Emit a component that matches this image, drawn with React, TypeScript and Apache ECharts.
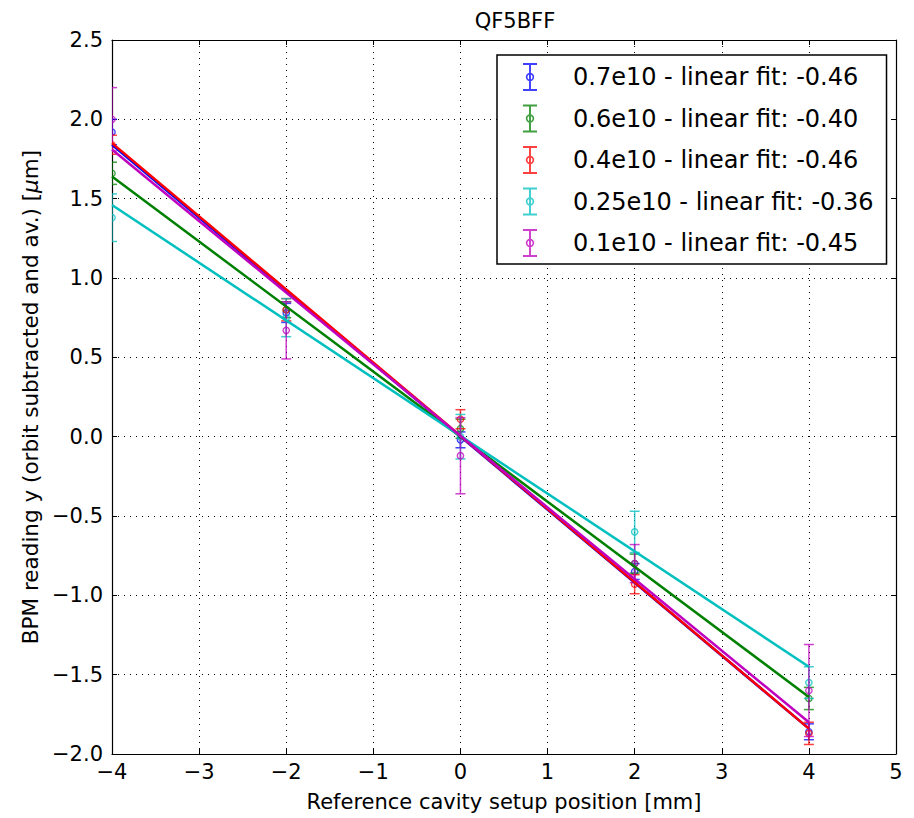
import React, { useEffect, useRef } from "react";
import * as echarts from "echarts";

// ---- data ----
const xPositions = [-4, -2, 0, 2, 4];
const seriesNames = [
  "0.7e10 - linear fit: -0.46",
  "0.6e10 - linear fit: -0.40",
  "0.4e10 - linear fit: -0.46",
  "0.25e10 - linear fit: -0.36",
  "0.1e10 - linear fit: -0.45",
];
const mean07 = [1.92, 0.78, -0.02, -0.85, -1.86];
const err07 = [0.08, 0.06, 0.05, 0.05, 0.05];
const mean06 = [1.66, 0.8, 0.05, -0.8, -1.65];
const err06 = [0.07, 0.05, 0.06, 0.06, 0.07];
const mean04 = [1.84, 0.8, 0.11, -0.93, -1.87];
const err04 = [0.06, 0.07, 0.06, 0.06, 0.07];
const mean025 = [1.38, 0.75, 0.0, -0.6, -1.55];
const err025 = [0.15, 0.12, 0.14, 0.13, 0.1];
const mean01 = [2.0, 0.67, -0.12, -0.8, -1.6];
const err01 = [0.2, 0.18, 0.24, 0.12, 0.29];
// fit line end values at x = -4 and x = 4
const fitX = [-4, 4];
const fit07 = [1.84, -1.84];
const fit06 = [1.64, -1.64];
const fit04 = [1.85, -1.84];
const fit025 = [1.46, -1.45];
const fit01 = [1.81, -1.8];
const xTicks = { min: -4, max: 5, interval: 1 };
const yTicks = { min: -2, max: 2.5, interval: 0.5 };

const colors = ["#0000ff", "#008000", "#ff0000", "#00bfbf", "#bf00bf"];
const FONT = "DejaVu Sans";

const means = [mean07, mean06, mean04, mean025, mean01];
const errs = [err07, err06, err04, err025, err01];
const fits = [fit07, fit06, fit04, fit025, fit01];

const legendIcon =
  "path://M0,0H10V1.5H0Z M4.3,0H5.7V20H4.3Z M0,18.5H10V20H0Z M5,7A3,3 0 1 1 5,13A3,3 0 1 1 5,7Z M5,8.2A1.8,1.8 0 1 0 5,11.8A1.8,1.8 0 1 0 5,8.2Z";

const minus = (s: string) => s.replace("-", "\u2212");

export default function App() {
  const ref = useRef<HTMLDivElement>(null);
  useEffect(() => {
    if (!ref.current) return;
    const chart = echarts.init(ref.current, undefined, { renderer: "svg" });

    const renderErr = (params: any, api: any) => {
      const x = api.value(0);
      const y = api.value(1);
      const e = api.value(2);
      const top = api.coord([x, y + e]);
      const bot = api.coord([x, y - e]);
      const c = api.coord([x, y]);
      const color = api.visual("color");
      const cs = params.coordSys;
      const left = cs.x;
      const right = cs.x + cs.width;
      const cw = 5;
      const l = Math.max(left, top[0] - cw);
      const r = Math.min(right, top[0] + cw);
      const st = { stroke: color, lineWidth: 1.5, opacity: 0.75 };
      return {
        type: "group",
        children: [
          { type: "line", shape: { x1: top[0], y1: top[1], x2: bot[0], y2: bot[1] }, style: st },
          { type: "line", shape: { x1: l, y1: top[1], x2: r, y2: top[1] }, style: st },
          { type: "line", shape: { x1: l, y1: bot[1], x2: r, y2: bot[1] }, style: st },
          {
            type: "circle",
            shape: { cx: c[0], cy: c[1], r: 3.2 },
            style: { stroke: color, fill: color, fillOpacity: 0.15, lineWidth: 1.3, opacity: 0.75 },
          },
        ],
      };
    };

    const series: any[] = [];
    seriesNames.forEach((name, i) => {
      series.push({
        name,
        type: "custom",
        renderItem: renderErr,
        clip: true,
        itemStyle: { color: colors[i] },
        encode: { x: 0, y: 1 },
        data: xPositions.map((x, k) => [x, means[i][k], errs[i][k]]),
        z: 3,
      });
    });
    seriesNames.forEach((name, i) => {
      series.push({
        name: "fit " + i,
        type: "line",
        symbol: "none",
        clip: true,
        lineStyle: { color: colors[i], width: 2.5 },
        itemStyle: { color: colors[i] },
        data: fitX.map((x, k) => [x, fits[i][k]]),
        z: 4,
      });
    });

    const tickStyle = { show: true, inside: true, length: 5, lineStyle: { color: "#000", width: 1 } };
    const axisLine = { show: true, onZero: false, lineStyle: { color: "#000", width: 1.2 } };
    const splitLine = { show: true, lineStyle: { color: "#000", type: [1, 5], width: 1 } };

    chart.setOption({
      animation: false,
      backgroundColor: "#fff",
      textStyle: { fontFamily: FONT },
      title: {
        text: "QF5BFF",
        left: 510,
        top: 5,
        textAlign: "center",
        textStyle: { fontFamily: FONT, fontSize: 21, fontWeight: "normal", color: "#000" },
      },
      grid: { left: 112, right: 18, top: 40, bottom: 64, containLabel: false },
      legend: {
        orient: "vertical",
        left: 497,
        top: 55,
        padding: [8, 13, 7, 26],
        borderColor: "#000",
        borderWidth: 1.5,
        backgroundColor: "#fff",
        itemWidth: 14,
        itemHeight: 28,
        itemGap: 13.5,
        selectedMode: false,
        textStyle: { fontFamily: FONT, fontSize: 24, color: "#000", padding: [0, 0, 0, 31] },
        data: seriesNames.map((name, i) => ({
          name,
          icon: legendIcon,
          itemStyle: { color: colors[i], opacity: 0.75 },
        })),
      },
      xAxis: [
        {
          type: "value",
          ...xTicks,
          position: "bottom",
          axisLine,
          axisTick: tickStyle,
          splitLine,
          axisLabel: {
            fontFamily: FONT,
            fontSize: 21,
            color: "#000",
            margin: 7,
            formatter: (v: number) => minus(String(v)),
          },
          name: "Reference cavity setup position [mm]",
          nameLocation: "middle",
          nameGap: 37,
          nameTextStyle: { fontFamily: FONT, fontSize: 21, color: "#000" },
        },
        {
          type: "value",
          ...xTicks,
          position: "top",
          axisLine,
          axisTick: tickStyle,
          splitLine: { show: false },
          axisLabel: { show: false },
        },
      ],
      yAxis: [
        {
          type: "value",
          ...yTicks,
          position: "left",
          axisLine,
          axisTick: tickStyle,
          splitLine,
          axisLabel: {
            fontFamily: FONT,
            fontSize: 21,
            color: "#000",
            margin: 9,
            formatter: (v: number) => minus(v.toFixed(1)),
          },
          name: "BPM reading y (orbit subtracted and av.) [{it|\u03bc}m]",
          nameLocation: "middle",
          nameGap: 62,
          nameTextStyle: {
            fontFamily: FONT,
            fontSize: 21.5,
            color: "#000",
            rich: { it: { fontFamily: FONT, fontSize: 21.5, fontStyle: "italic", color: "#000" } },
          },
        },
        {
          type: "value",
          ...yTicks,
          position: "right",
          axisLine,
          axisTick: tickStyle,
          splitLine: { show: false },
          axisLabel: { show: false },
        },
      ],
      series,
    });
    return () => chart.dispose();
  }, []);
  return (
    <div
      ref={ref}
      style={{ position: "fixed", left: 0, top: 0, width: 914, height: 818, background: "#fff" }}
    />
  );
}
